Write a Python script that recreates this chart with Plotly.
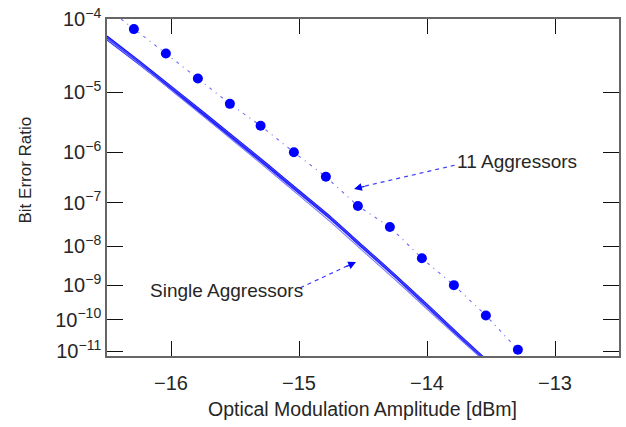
import numpy as np
import plotly.graph_objects as go

# ---------------- data ----------------
oma_11 = [-16.29, -16.04, -15.79, -15.54, -15.30, -15.04, -14.79, -14.54, -14.29, -14.04, -13.79, -13.54, -13.29]
ber_11 = [7.5e-5, 3.6e-5, 1.6e-5, 6.6e-6, 2.9e-6, 9.9e-7, 3.4e-7, 8.5e-8, 2.9e-8, 5.1e-9, 1.0e-9, 1.35e-10, 1.1e-11]
# dotted guide through the 11-aggressor points (starts at top edge)
oma_11_line = [-16.39] + oma_11
ber_11_line = [1.0e-4] + ber_11

oma_single = [-16.5, -16.25, -16.0, -15.75, -15.5, -15.25, -15.0, -14.75, -14.5, -14.25, -14.0, -13.75, -13.55]
ber_single = [
    [5.8e-5, 2.71e-5, 1.17e-5, 4.65e-6, 1.70e-6, 5.68e-7, 1.68e-7, 4.51e-8, 9.57e-9, 1.78e-9, 2.64e-10, 3.17e-11, 5.2e-12],
    [6.1e-5, 2.85e-5, 1.23e-5, 4.9e-6, 1.8e-6, 6.0e-7, 1.78e-7, 4.8e-8, 1.02e-8, 1.9e-9, 2.85e-10, 3.45e-11, 5.7e-12],
    [5.5e-5, 2.58e-5, 1.11e-5, 4.4e-6, 1.6e-6, 5.36e-7, 1.58e-7, 4.23e-8, 8.97e-9, 1.66e-9, 2.45e-10, 2.92e-11, 4.8e-12],
    [5.6e-5, 2.6e-5, 1.08e-5, 4.2e-6, 1.5e-6, 4.9e-7, 1.42e-7, 3.7e-8, 7.7e-9, 1.42e-9, 2.1e-10, 2.6e-11, 4.5e-12],
    [5.9e-5, 2.78e-5, 1.2e-5, 4.78e-6, 1.75e-6, 5.85e-7, 1.73e-7, 4.65e-8, 9.9e-9, 1.84e-9, 2.75e-10, 3.3e-11, 5.4e-12],
]
single_colors = ["#0000ff", "#1010ff", "#2a2aff", "#7a7aff", "#4848ff"]
single_widths = [2.2, 1.6, 1.6, 1.1, 1.1]

y_tick_exps = [4, 5, 6, 7, 8, 9, 10, 11]
x_ticks = [-16, -15, -14, -13]

# --------------- scale: BER axis in log(-log(BER)) ---------------
def bscale(b):
    return np.log10(-np.log10(np.asarray(b, dtype=float)))

fig = go.Figure()

for vals, c, w in zip(ber_single, single_colors, single_widths):
    fig.add_trace(go.Scatter(x=oma_single, y=bscale(vals), mode="lines",
                             line=dict(color=c, width=w, shape="spline", smoothing=0.6),
                             showlegend=False))

fig.add_trace(go.Scatter(x=oma_11_line, y=bscale(ber_11_line), mode="lines",
                         line=dict(color="#6a6aff", width=1.1, dash="3px,5px,1px,5px"),
                         showlegend=False))
fig.add_trace(go.Scatter(x=oma_11, y=bscale(ber_11), mode="markers",
                         marker=dict(color="#0000ff", size=10, line=dict(width=0)),
                         showlegend=False, cliponaxis=False))

font_fam = "Liberation Sans, Arial, sans-serif"
txt_col = "#262626"

y_top = bscale(1e-4)
y_bot = 1.0480

fig.update_layout(
    width=626, height=427,
    margin=dict(l=107, r=5, t=15, b=71),
    paper_bgcolor="white", plot_bgcolor="white",
    font=dict(family=font_fam, size=19, color=txt_col),
    xaxis=dict(range=[-16.5, -12.5], tickvals=x_ticks,
               ticktext=["\u221216", "\u221215", "\u221214", "\u221213"],
               ticks="inside", ticklen=15, tickwidth=1.3, tickcolor="#111",
               showline=True, linecolor="#666", linewidth=1.6, mirror="ticks",
               showgrid=False, zeroline=False, ticklabelstandoff=8,
               tickfont=dict(size=20)),
    yaxis=dict(range=[y_bot, y_top],
               tickvals=list(bscale([10.0 ** (-e) for e in y_tick_exps])),
               ticktext=["10<sup>\u2212%d</sup>" % e for e in y_tick_exps],
               ticks="inside", ticklen=16, tickwidth=1.3, tickcolor="#111",
               showline=True, linecolor="#666", linewidth=1.6, mirror="ticks",
               showgrid=False, zeroline=False, ticklabelstandoff=0,
               tickfont=dict(size=20)),
)

def px2paper(px, py):
    return (px - 107) / 514.0, (356 - py) / 341.0

# axis titles
xt, yt = px2paper(363, 410)
fig.add_annotation(x=xt, y=yt, xref="paper", yref="paper", text="Optical Modulation Amplitude [dBm]",
                   showarrow=False, font=dict(size=19.5), xanchor="center", yanchor="middle")
xt, yt = px2paper(25, 168)
fig.add_annotation(x=xt, y=yt, xref="paper", yref="paper", text="Bit Error Ratio",
                   showarrow=False, textangle=-90, font=dict(size=17), xanchor="center", yanchor="middle")

# "11 Aggressors" label with dashed arrow
xt, yt = px2paper(456, 159)
fig.add_annotation(x=xt, y=yt, xref="paper", yref="paper", text="11 Aggressors",
                   showarrow=False, font=dict(size=19), xanchor="left", yanchor="middle")
x0, y0 = px2paper(456, 163)
x1, y1 = px2paper(362, 185)
fig.add_shape(type="line", xref="paper", yref="paper", x0=x0, y0=y0, x1=x1, y1=y1,
              line=dict(color="#3a3aff", width=1.2, dash="4px,4px"))
xa, ya = px2paper(355, 187)
fig.add_annotation(x=xa, y=ya, xref="paper", yref="paper", text="", showarrow=True,
                   ax=12, ay=-3, arrowhead=2, arrowsize=1.3, arrowwidth=1.2, arrowcolor="#0000ff")

# "Single Aggressors" label with dashed arrow
xt, yt = px2paper(148, 290)
fig.add_annotation(x=xt, y=yt, xref="paper", yref="paper", text="Single Aggressors",
                   showarrow=False, font=dict(size=19), xanchor="left", yanchor="middle")
x0, y0 = px2paper(301, 287)
x1, y1 = px2paper(350, 264)
fig.add_shape(type="line", xref="paper", yref="paper", x0=x0, y0=y0, x1=x1, y1=y1,
              line=dict(color="#3a3aff", width=1.2, dash="4px,4px"))
xa, ya = px2paper(357, 261)
fig.add_annotation(x=xa, y=ya, xref="paper", yref="paper", text="", showarrow=True,
                   ax=-11, ay=5, arrowhead=2, arrowsize=1.3, arrowwidth=1.2, arrowcolor="#0000ff")

fig.write_html("out.html", config={"displayModeBar": False},
               post_script="document.body.style.margin='0';")
